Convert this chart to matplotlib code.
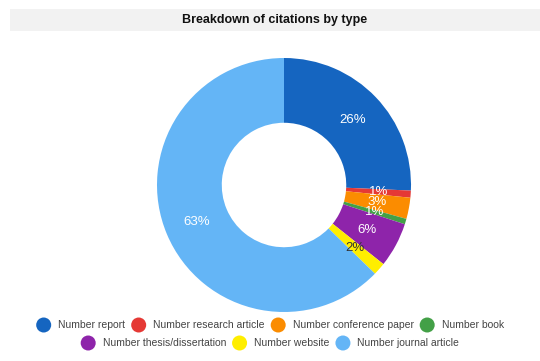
import matplotlib
matplotlib.use("Agg")
import matplotlib.pyplot as plt
from matplotlib.patches import Rectangle, Ellipse

plt.rcParams['font.family'] = ['Liberation Sans', 'DejaVu Sans']

# data (percent of citations)
labels = ["Number report", "Number research article", "Number conference paper",
          "Number book", "Number thesis/dissertation", "Number website",
          "Number journal article"]
values = [25.7, 0.9, 2.7, 0.7, 5.7, 1.6, 62.7]
colors = ["#1565c0", "#e53935", "#fb8c00", "#43a047", "#8e24aa", "#ffee00", "#64b5f6"]
text_colors = ["white", "white", "white", "white", "white", "#333333", "white"]

W, H = 540, 361
fig = plt.figure(figsize=(W / 100, H / 100), dpi=100)

# title band
fig.patches.append(Rectangle((10 / W, 1 - 31 / H), 530 / W, 22 / H,
                             transform=fig.transFigure, facecolor="#f2f2f2",
                             edgecolor="none", zorder=0))
fig.text(275 / W, 1 - 20 / H, "Breakdown of citations by type", ha="center",
         va="center", fontsize=9, fontweight="bold", color="#111111")

# donut
cx, cy, r = 284, 185, 127
ax = fig.add_axes([(cx - r) / W, (H - cy - r) / H, 2 * r / W, 2 * r / H])
wedges, texts, autotexts = ax.pie(values, colors=colors, startangle=90,
                                  counterclock=False, radius=1,
                                  wedgeprops=dict(width=0.51, linewidth=0),
                                  autopct="%1.0f%%", pctdistance=0.745,
                                  textprops=dict(fontsize=9.5))
for t, c in zip(autotexts, text_colors):
    t.set_color(c)
ax.set_xlim(-1, 1)
ax.set_ylim(-1, 1)
ax.set_aspect("equal")
ax.axis("off")

# legend, two centred rows
rows = [[0, 1, 2, 3], [4, 5, 6]]
row_y = [325, 343]
fig.canvas.draw()
renderer = fig.canvas.get_renderer()
circ_d, gap_ct, gap_item = 15, 7, 6
for row, y in zip(rows, row_y):
    items = []
    for i in row:
        t = fig.text(0, 0, labels[i], fontsize=7.5, color="#444444")
        w = t.get_window_extent(renderer).width
        t.remove()
        items.append((i, w))
    total = sum(circ_d + gap_ct + w for _, w in items) + gap_item * (len(items) - 1)
    x = 270 - total / 2
    for i, w in items:
        fig.patches.append(Ellipse(
            ((x + circ_d / 2) / W, 1 - y / H), circ_d / W, circ_d / H,
            transform=fig.transFigure, facecolor=colors[i], edgecolor="none"))
        fig.text((x + circ_d + gap_ct) / W, 1 - y / H, labels[i], fontsize=7.5,
                 color="#444444", va="center", ha="left")
        x += circ_d + gap_ct + w + gap_item

fig.savefig("out.png", dpi=100, facecolor="white")
